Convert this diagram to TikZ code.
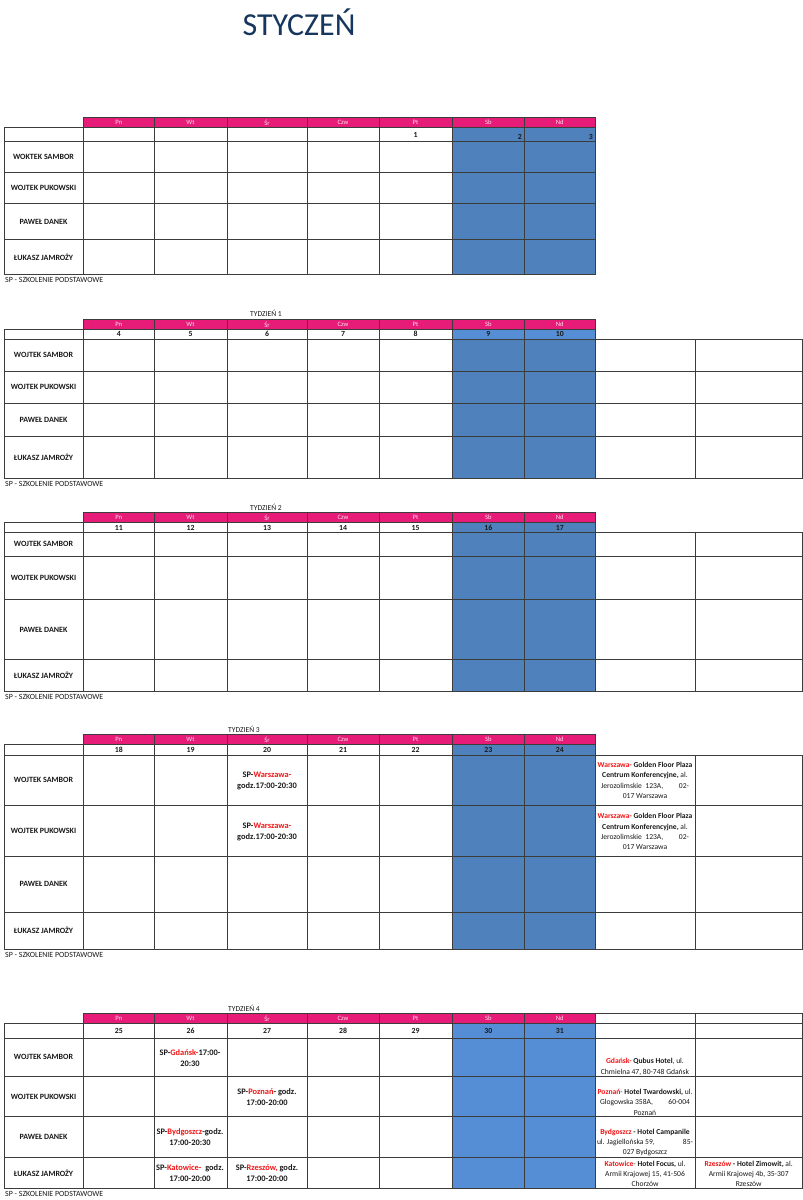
\documentclass[tikz,border=0pt]{standalone}
\usepackage{fontspec}
\setmainfont{Carlito}
\definecolor{pinkc}{RGB}{230,28,120}
\definecolor{blueA}{RGB}{79,129,189}
\definecolor{blueB}{RGB}{85,142,213}
\definecolor{gridc}{RGB}{60,60,60}
\definecolor{redc}{RGB}{245,20,20}
\definecolor{titlec}{RGB}{23,54,93}
\definecolor{hdrtxt}{RGB}{255,225,238}
\definecolor{txtc}{RGB}{25,25,25}
\tikzset{
 gridline/.style={draw=gridc, line width=0.8pt},
 hdr/.style={text=hdrtxt, font=\fontsize{6.6}{7}\selectfont, inner sep=0pt},
 datenum/.style={font=\bfseries\fontsize{7.8}{8}\selectfont, inner sep=0pt, text=txtc},
 person/.style={font=\bfseries\fontsize{8}{8}\selectfont, inner sep=0pt, text=txtc},
 foot/.style={font=\fontsize{7.9}{8}\selectfont, inner sep=0pt, anchor=west, text=txtc},
 week/.style={font=\fontsize{7.6}{8}\selectfont, inner sep=0pt, text=txtc},
 entry/.style={font=\bfseries\fontsize{8.4}{11}\selectfont, align=center, inner sep=0pt, text=txtc},
 venue/.style={font=\fontsize{7.6}{10.3}\selectfont, align=center, inner sep=0pt, text=txtc},
}
% #1 pink top, #2 pink bottom, #3 date bottom, #4-#7 row bottoms, #8 date blue, #9 body blue
\newcommand{\weektable}[9]{%
 \fill[#8] (452,#2) rectangle (595,#3);
 \fill[#9] (452,#3) rectangle (595,#7);
 \fill[pinkc] (83.5,#1) rectangle (595,#2);
 \draw[gridline] (83.5,#1) rectangle (595,#2);
 \foreach \x in {154,227,307,379,452,524.5} \draw[gridline] (\x,#1) -- (\x,#7);
 \draw[gridline] (4,#2) rectangle (595,#7);
 \draw[gridline] (83.5,#2) -- (83.5,#7);
 \foreach \y in {#3,#4,#5,#6} \draw[gridline] (4,\y) -- (595,\y);
 \foreach \xa/\xb/\d [count=\i] in {83.5/154/Pn,154/227/Wt,227/307/Śr,307/379/Czw,379/452/Pt,452/524.5/Sb,524.5/595/Nd}
   \node[hdr] (\tabid h\i) at ({(\xa+\xb)/2},{(#1+#2)/2}) {\d};
 \node[person] (\tabid p1) at (43.5,{(#3+#4)/2}) {\firstname};
 \node[person] (\tabid p2) at (43.5,{(#4+#5)/2}) {WOJTEK PUKOWSKI};
 \node[person] (\tabid p3) at (43.5,{(#5+#6)/2}) {PAWEŁ DANEK};
 \node[person] (\tabid p4) at (43.5,{(#6+#7)/2}) {ŁUKASZ JAMROŻY};
 \node[foot] (\tabid f) at (5,{#7+5.8}) {SP - SZKOLENIE PODSTAWOWE};
}
\newcommand{\datenums}[3]{%
 \foreach \xa/\xb/\d [count=\i] in {#3}
   \node[datenum] (\tabid d\i) at ({(\xa+\xb)/2},{(#1+#2)/2}) {\d};
}
\newcommand{\extracols}[3]{%
 \draw[gridline] (595,#1) rectangle (802,#2);
 \draw[gridline] (695.5,#1) -- (695.5,#2);
 \foreach \y in {#3} \draw[gridline] (595,\y) -- (802,\y);
}
\begin{document}
\begin{tikzpicture}[x=1pt,y=-1pt]
\useasboundingbox[fill=white] (0,0) rectangle (803,1200);
\node[text=titlec, font=\fontsize{32}{34}\selectfont, inner sep=0pt] (title) at (299,22) {STYCZEŃ};

% ---------- Table 1
\def\tabid{A}\def\firstname{WOKTEK SAMBOR}
\weektable{117.3}{127.7}{141.7}{172.3}{203.5}{239.5}{274.3}{blueA}{blueA}
\node[datenum] (Ad5) at (415.5,134.7) {1};
\node[datenum, anchor=east] (Ad6) at (522,137) {2};
\node[datenum, anchor=east] (Ad7) at (593,137) {3};

% ---------- Table 2
\def\tabid{B}\def\firstname{WOJTEK SAMBOR}
\node[week] (Bw) at (266,313.5) {TYDZIEŃ 1};
\weektable{319.3}{329.3}{339.3}{371}{403.5}{436}{478.3}{blueB}{blueA}
\datenums{329.3}{339.3}{83.5/154/4,154/227/5,227/307/6,307/379/7,379/452/8,452/524.5/9,524.5/595/10}
\extracols{339.3}{478.3}{371,403.5,436}

% ---------- Table 3
\def\tabid{C}
\node[week] (Cw) at (266,507.5) {TYDZIEŃ 2};
\weektable{512.5}{522.7}{532.7}{556}{599.7}{659.5}{691}{blueA}{blueA}
\datenums{522.7}{532.7}{83.5/154/11,154/227/12,227/307/13,307/379/14,379/452/15,452/524.5/16,524.5/595/17}
\extracols{532.7}{691}{556,599.7,659.5}

% ---------- Table 4
\def\tabid{D}
\node[week] (Dw) at (244,729.3) {TYDZIEŃ 3};
\weektable{734.3}{744.7}{755}{805}{856.7}{912}{949.3}{blueA}{blueA}
\datenums{744.7}{755}{83.5/154/18,154/227/19,227/307/20,307/379/21,379/452/22,452/524.5/23,524.5/595/24}
\extracols{755}{949.3}{805,856.7,912}
\node[entry] (De1) at (267,780.5) {SP-\textcolor{redc}{Warszawa-}\\godz.17:00-20:30};
\node[entry] (De2) at (267,831.8) {SP-\textcolor{redc}{Warszawa-}\\godz.17:00-20:30};
\node[venue] (Dv1) at (645,780.5) {\textcolor{redc}{\bfseries Warszawa-} \textbf{Golden Floor Plaza}\\\textbf{Centrum Konferencyjne,} al.\\\hbox to 88pt{Jerozolimskie\ \ 123A,\hfill 02-}\\017 Warszawa};
\node[venue] (Dv2) at (645,831.8) {\textcolor{redc}{\bfseries Warszawa-} \textbf{Golden Floor Plaza}\\\textbf{Centrum Konferencyjne,} al.\\\hbox to 88pt{Jerozolimskie\ \ 123A,\hfill 02-}\\017 Warszawa};

% ---------- Table 5
\def\tabid{E}
\node[week] (Ew) at (244,1008.3) {TYDZIEŃ 4};
\weektable{1013.7}{1023.3}{1038.3}{1076.3}{1116.7}{1157.3}{1188.3}{blueB}{blueB}
\datenums{1023.3}{1038.3}{83.5/154/25,154/227/26,227/307/27,307/379/28,379/452/29,452/524.5/30,524.5/595/31}
\extracols{1013.7}{1188.3}{1023.3,1038.3,1076.3,1116.7,1157.3}
\node[entry] (Ee1) at (190,1057.8) {SP-\textcolor{redc}{Gdańsk-}17:00-\\20:30};
\node[entry] (Ee2) at (267,1097.5) {SP-\textcolor{redc}{Poznań}- godz.\\17:00-20:00};
\node[entry] (Ee3) at (190,1137.4) {SP-\textcolor{redc}{Bydgoszcz}-godz.\\17:00-20:30};
\node[entry] (Ee4) at (190,1173.3) {SP-\textcolor{redc}{Katowice-}\ \ godz.\\17:00-20:00};
\node[entry] (Ee5) at (267,1173.3) {SP-\textcolor{redc}{Rzeszów,} godz.\\17:00-20:00};
\node[venue] (Ev1) at (645,1066.8) {\textcolor{redc}{\bfseries Gdańsk-} \textbf{Qubus Hotel}, ul.\\Chmielna 47, 80-748 Gdańsk};
\node[venue] (Ev2) at (645,1102.3) {\textcolor{redc}{\bfseries Poznań}- \textbf{Hotel Twardowski,} ul.\\\hbox to 90pt{Glogowska 358A,\hfill 60-004}\\Poznań};
\node[venue] (Ev3) at (645,1142.3) {\textcolor{redc}{\bfseries Bydgoszcz} \textbf{- Hotel Campanile}\\\hbox to 96pt{ul. Jagiellońska 59,\hfill 85-}\\027 Bydgoszcz};
\node[venue] (Ev4) at (645,1173.7) {\textcolor{redc}{\bfseries Katowice}- \textbf{Hotel Focus,} ul.\\Armii Krajowej 15, 41-506\\Chorzów};
\node[venue] (Ev5) at (748.7,1173.7) {\textcolor{redc}{\bfseries Rzeszów} \textbf{- Hotel Zimowit,} al.\\Armii Krajowej 4b, 35-307\\Rzeszów};
\end{tikzpicture}
\end{document}
